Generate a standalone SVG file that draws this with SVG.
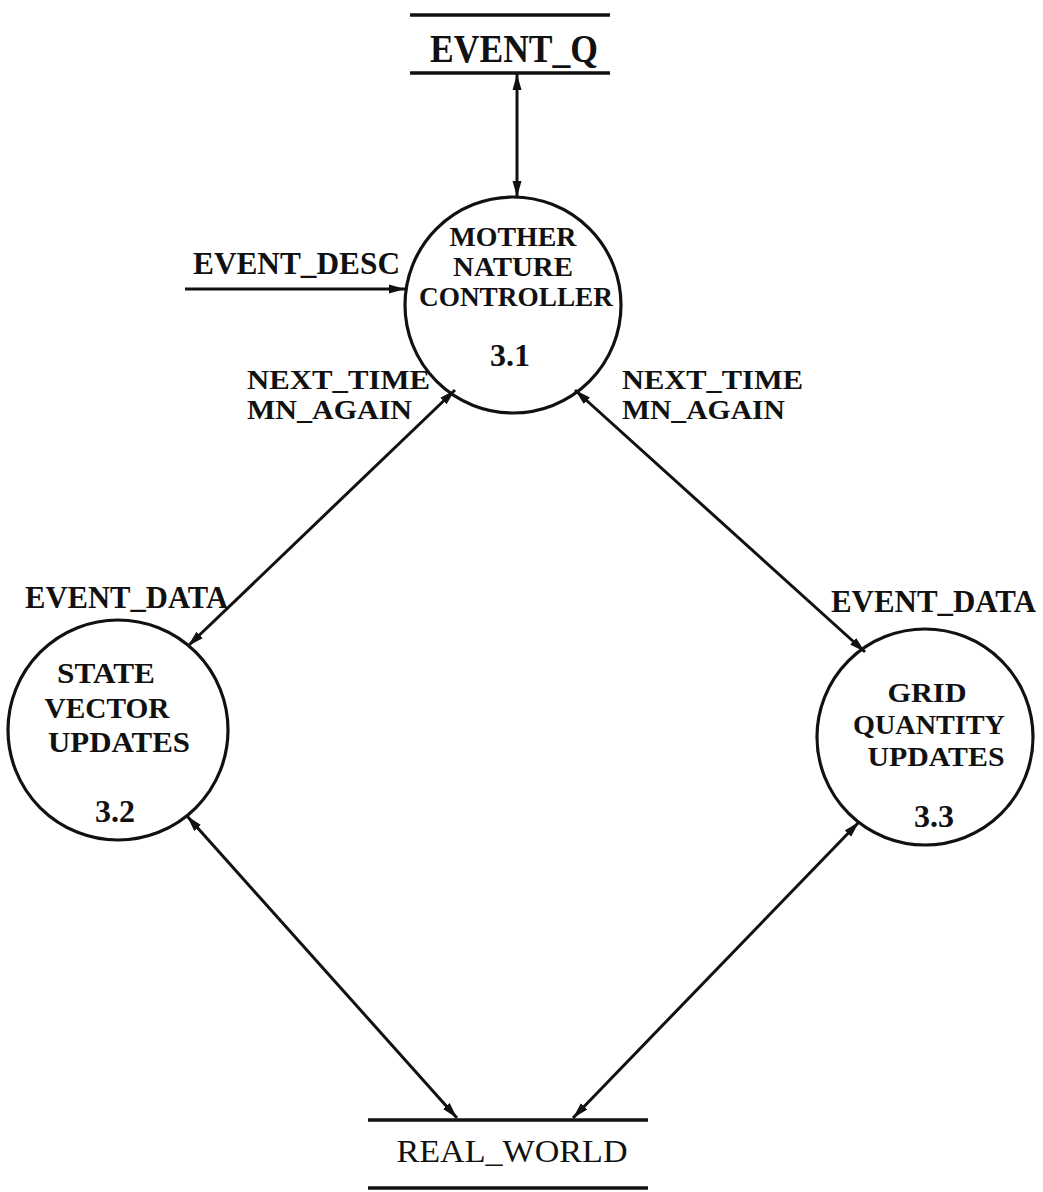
<svg xmlns="http://www.w3.org/2000/svg" width="1043" height="1192" viewBox="0 0 1043 1192">
<style>
.bg{fill:#ffffff}
.proc{fill:none;stroke:#111;stroke-width:3.2}
.store{stroke:#111;stroke-width:3.5}
.flow{stroke:#111;stroke-width:3;fill:none}
.t{font-family:"Liberation Serif",serif;font-weight:bold;fill:#111;text-anchor:middle}
.tl{font-family:"Liberation Serif",serif;font-weight:bold;fill:#111;text-anchor:start}
.tr{font-family:"Liberation Serif",serif;font-weight:normal;fill:#111;text-anchor:middle}
</style>
<defs>
<marker id="ah" markerUnits="userSpaceOnUse" markerWidth="18" markerHeight="12" refX="16" refY="6" orient="auto-start-reverse">
<path d="M0,1.5 L16,6 L0,10.5 z" fill="#111"/>
</marker>
</defs>
<rect class="bg" x="0" y="0" width="1043" height="1192"/>

<g id="connectors">
<line class="flow" x1="517" y1="74" x2="517" y2="197" marker-start="url(#ah)" marker-end="url(#ah)"/>
<line class="flow" x1="185" y1="289" x2="405" y2="289" marker-end="url(#ah)"/>
<line class="flow" x1="455" y1="390" x2="188" y2="646" marker-start="url(#ah)" marker-end="url(#ah)"/>
<line class="flow" x1="575" y1="390" x2="865" y2="652" marker-start="url(#ah)" marker-end="url(#ah)"/>
<line class="flow" x1="187" y1="816" x2="457" y2="1118" marker-start="url(#ah)" marker-end="url(#ah)"/>
<line class="flow" x1="859" y1="822" x2="573" y2="1118" marker-start="url(#ah)" marker-end="url(#ah)"/>
</g>

<g id="labels">
<text class="tl" x="193" y="274" font-size="31" textLength="207" lengthAdjust="spacingAndGlyphs">EVENT_DESC</text>
<text class="tl" x="247" y="389" font-size="27" textLength="183" lengthAdjust="spacingAndGlyphs">NEXT_TIME</text>
<text class="tl" x="247" y="419" font-size="27" textLength="165" lengthAdjust="spacingAndGlyphs">MN_AGAIN</text>
<text class="tl" x="622" y="389" font-size="27" textLength="181" lengthAdjust="spacingAndGlyphs">NEXT_TIME</text>
<text class="tl" x="622" y="419" font-size="27" textLength="163" lengthAdjust="spacingAndGlyphs">MN_AGAIN</text>
<text class="tl" x="25" y="608" font-size="31" textLength="203" lengthAdjust="spacingAndGlyphs">EVENT_DATA</text>
<text class="tl" x="831" y="612" font-size="31" textLength="205" lengthAdjust="spacingAndGlyphs">EVENT_DATA</text>
</g>

<g id="store-event-q">
<line class="store" x1="410" y1="15" x2="610" y2="15"/>
<line class="store" x1="410" y1="73" x2="610" y2="73"/>
<text class="t" x="514" y="62" font-size="40" textLength="168" lengthAdjust="spacingAndGlyphs">EVENT_Q</text>
</g>

<g id="proc-3-1">
<circle class="proc" cx="513" cy="305" r="108"/>
<text class="t" x="513" y="246" font-size="27" textLength="127" lengthAdjust="spacingAndGlyphs">MOTHER</text>
<text class="t" x="513" y="276" font-size="27" textLength="120" lengthAdjust="spacingAndGlyphs">NATURE</text>
<text class="t" x="516" y="306" font-size="27" textLength="194" lengthAdjust="spacingAndGlyphs">CONTROLLER</text>
<text class="t" x="510" y="366" font-size="32">3.1</text>
</g>

<g id="proc-3-2">
<circle class="proc" cx="118" cy="730" r="110"/>
<text class="t" x="106" y="683" font-size="30" textLength="98" lengthAdjust="spacingAndGlyphs">STATE</text>
<text class="t" x="107" y="718" font-size="30" textLength="125" lengthAdjust="spacingAndGlyphs">VECTOR</text>
<text class="t" x="119" y="752" font-size="30" textLength="142" lengthAdjust="spacingAndGlyphs">UPDATES</text>
<text class="t" x="115" y="822" font-size="32">3.2</text>
</g>

<g id="proc-3-3">
<circle class="proc" cx="925" cy="737" r="108"/>
<text class="t" x="927" y="702" font-size="28" textLength="79" lengthAdjust="spacingAndGlyphs">GRID</text>
<text class="t" x="929" y="734" font-size="28" textLength="152" lengthAdjust="spacingAndGlyphs">QUANTITY</text>
<text class="t" x="936" y="766" font-size="28" textLength="137" lengthAdjust="spacingAndGlyphs">UPDATES</text>
<text class="t" x="934" y="827" font-size="32">3.3</text>
</g>

<g id="store-real-world">
<line class="store" x1="368" y1="1120" x2="648" y2="1120"/>
<line class="store" x1="368" y1="1188" x2="648" y2="1188"/>
<text class="tr" x="512" y="1162" font-size="32" textLength="231" lengthAdjust="spacingAndGlyphs">REAL_WORLD</text>
</g>
</svg>
